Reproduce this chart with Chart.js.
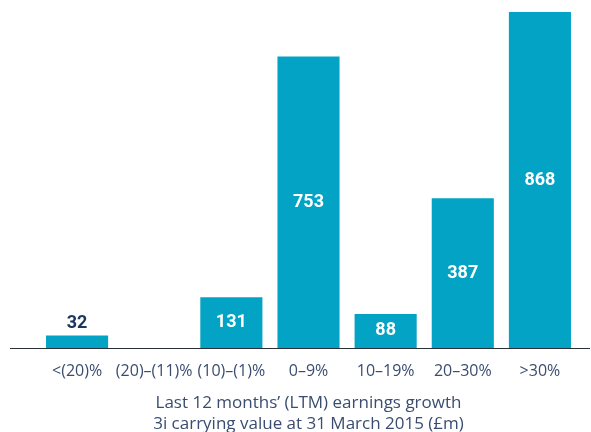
<!DOCTYPE html>
<html>
<head>
<meta charset="utf-8">
<script src="https://cdn.jsdelivr.net/npm/chart.js@4/dist/chart.umd.min.js"></script>
<style>
html,body{margin:0;padding:0;background:#fff;}
#wrap{width:591px;height:432px;position:relative;}
</style>
</head>
<body>
<div id="wrap"><canvas id="c" width="591" height="432"></canvas></div>
<script>
const categories = ["<(20)%", "(20)–(11)%", "(10)–(1)%", "0–9%", "10–19%", "20–30%", ">30%"];
const values = [32, 0, 131, 753, 88, 387, 868];
const axisTitle = ["Last 12 months’ (LTM) earnings growth", "3i carrying value at 31 March 2015 (£m)"];

const BAR = '#02a3c4';
const NAVY = '#1d3660';
const TXT = '#3a4d70';
const FONT = '"Open Sans", Roboto, sans-serif';
const NUMFONT = 'Roboto, "DejaVu Sans", sans-serif';

const valueLabels = {
  id: 'valueLabels',
  afterDatasetsDraw(chart) {
    const ctx = chart.ctx;
    const meta = chart.getDatasetMeta(0);
    ctx.save();
    ctx.font = 'bold 18px ' + NUMFONT;
    ctx.textAlign = 'center';
    ctx.textBaseline = 'middle';
    meta.data.forEach((bar, i) => {
      const v = values[i];
      if (!v) return;
      const h = bar.base - bar.y;
      if (h < 25) {
        ctx.fillStyle = NAVY;
        ctx.fillText(String(v), bar.x, bar.y - 12);
      } else {
        ctx.fillStyle = '#ffffff';
        ctx.fillText(String(v), bar.x, (bar.y + bar.base) / 2);
      }
    });
    ctx.restore();
  }
};

const baseLine = {
  id: 'baseLine',
  afterDatasetsDraw(chart) {
    const ctx = chart.ctx;
    const y = Math.round(chart.scales.y.getPixelForValue(0)) + 0.5;
    ctx.save();
    ctx.strokeStyle = '#2a2f38';
    ctx.lineWidth = 1;
    ctx.beginPath();
    ctx.moveTo(10, y);
    ctx.lineTo(590, y);
    ctx.stroke();
    ctx.restore();
  }
};

new Chart(document.getElementById('c'), {
  type: 'bar',
  data: {
    labels: categories,
    datasets: [{
      data: values,
      backgroundColor: BAR,
      borderWidth: 0,
      barPercentage: 0.805,
      categoryPercentage: 1.0
    }]
  },
  options: {
    responsive: false,
    animation: false,
    devicePixelRatio: 1,
    layout: { padding: { top: 12, left: 38.5, right: 12.5, bottom: 0 } },
    plugins: { legend: { display: false }, tooltip: { enabled: false } },
    scales: {
      x: {
        afterFit(scale) { scale.height = 84; },
        grid: { display: false, drawTicks: false },
        border: { display: false },
        ticks: { color: TXT, font: { family: FONT, size: 16 }, padding: 14, maxRotation: 0, autoSkip: false },
        title: {
          display: true,
          text: axisTitle,
          color: TXT,
          font: { family: FONT, size: 17, lineHeight: 1.24 },
          padding: { top: 0, bottom: -3 }
        }
      },
      y: {
        display: false,
        min: 0,
        max: 868,
        grid: { display: false }
      }
    }
  },
  plugins: [valueLabels, baseLine]
});
</script>
</body>
</html>
